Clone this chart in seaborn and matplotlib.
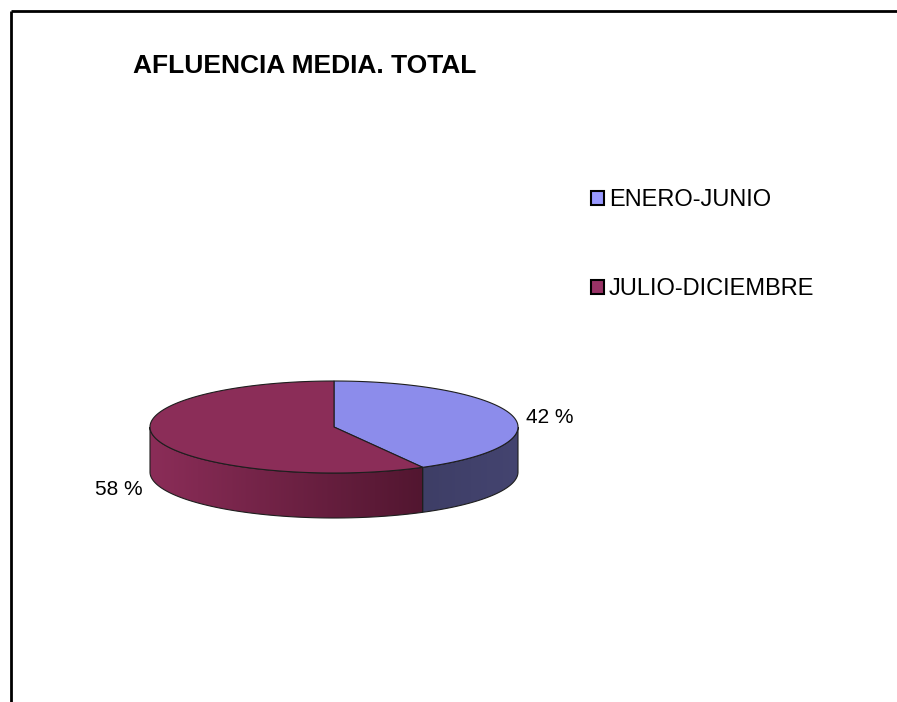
import numpy as np
import seaborn as sns
import matplotlib.pyplot as plt
import matplotlib.patches as mpatches
from matplotlib.colors import to_rgb

# Data
labels = ['ENERO-JUNIO', 'JULIO-DICIEMBRE']
shares = [42, 58]
title = 'AFLUENCIA MEDIA. TOTAL'

sns.set_theme(style='white')
plt.rcParams['font.family'] = ['Liberation Sans', 'DejaVu Sans']
plt.rcParams['text.color'] = 'black'

legend_colors = sns.color_palette(['#9999FF', '#993366'])
top_colors = ['#8C8CEB', '#8B2D58']
side_left = ['#3E3E66', '#8B2D58']
side_right = ['#444470', '#521630']

W, H = 897, 702
fig = plt.figure(figsize=(W / 100, H / 100), dpi=100)
ax = fig.add_axes([0, 0, 1, 1])
ax.set_xlim(0, W)
ax.set_ylim(H, 0)
ax.axis('off')

# frame (only top and left edges are inside the image)
ax.plot([11, W], [11, 11], color='black', lw=2, solid_capstyle='butt')
ax.plot([11, 11], [11, H], color='black', lw=2, solid_capstyle='butt')

# pie geometry in pixel space
cx, cy, a, b, depth = 334, 427, 184, 46, 45
edge = '#1e1e1e'


def pt(t):
    return cx + a * np.cos(t), cy - b * np.sin(t)


# slices start at 12 o'clock and run clockwise
fracs = np.array(shares) / sum(shares)
starts = np.pi / 2 - 2 * np.pi * np.concatenate([[0], np.cumsum(fracs)[:-1]])
ends = starts - 2 * np.pi * fracs

# side walls: only the front half (angles in [-pi, 0]) is visible
for i in range(len(shares)):
    for k in (0, 2 * np.pi):
        lo = max(ends[i] + k, -np.pi)
        hi = min(starts[i] + k, 0)
        if hi <= lo:
            continue
        ts = np.linspace(lo, hi, 200)
        xs, ys = pt(ts)
        px = np.concatenate([xs, xs[::-1]])
        py = np.concatenate([ys, ys[::-1] + depth])
        poly = mpatches.Polygon(np.column_stack([px, py]), closed=True,
                                facecolor='none', edgecolor=edge, lw=0.8, zorder=3)
        ax.add_patch(poly)
        c0, c1 = np.array(to_rgb(side_left[i])), np.array(to_rgb(side_right[i]))
        grad = np.linspace(0, 1, 256)[None, :, None]
        img = c0 + (c1 - c0) * grad
        im = ax.imshow(img, extent=[px.min(), px.max(), py.max(), py.min()],
                       aspect='auto', zorder=2, interpolation='bilinear')
        im.set_clip_path(poly)

# top faces
for i in range(len(shares)):
    ts = np.linspace(starts[i], ends[i], 300)
    xs, ys = pt(ts)
    verts = np.column_stack([np.r_[cx, xs], np.r_[cy, ys]])
    ax.add_patch(mpatches.Polygon(verts, closed=True, facecolor=top_colors[i],
                                  edgecolor=edge, lw=0.8, zorder=4))

# percentage labels
for i in range(len(shares)):
    mid = (starts[i] + ends[i]) / 2
    lx = cx + a * np.cos(mid) * 1.21
    ly = cy - b * np.sin(mid) * 1.21 + 4
    if np.sin(mid) < 0:
        ly += depth
    ax.text(lx, ly, f'{shares[i]} %', ha='center', va='center', fontsize=15, zorder=5)

# title
ax.text(133, 66, title, ha='left', va='center', fontsize=19, fontweight='bold')

# legend
handles = [mpatches.Patch(facecolor=legend_colors[i], edgecolor='black', lw=1.5,
                          label=labels[i]) for i in range(len(labels))]
fig.legend(handles=handles, loc='upper left', bbox_to_anchor=(591 / W, 1 - 189 / H),
           bbox_transform=fig.transFigure, frameon=False, fontsize=17,
           handlelength=0.55, handleheight=0.55, handletextpad=0.2,
           labelspacing=2.85, borderpad=0, borderaxespad=0)

fig.savefig('out.png', dpi=100)
